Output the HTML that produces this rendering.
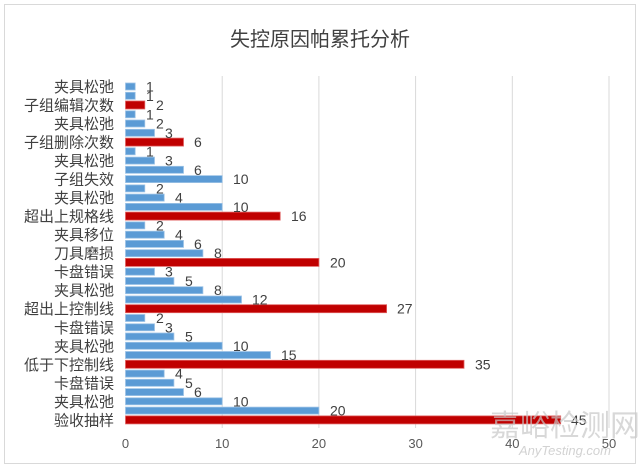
<!DOCTYPE html>
<html><head><meta charset="utf-8"><style>
html,body{margin:0;padding:0;background:#fff;}
svg{display:block;font-family:"Liberation Sans","Noto Sans CJK SC",sans-serif;}
</style></head><body>
<svg width="640" height="468" viewBox="0 0 640 468" xmlns="http://www.w3.org/2000/svg">
<rect x="0" y="0" width="640" height="468" fill="#fff"/>
<rect x="4.5" y="4.5" width="631" height="459" fill="none" stroke="#d9d9d9"/>
<text x="320" y="46" text-anchor="middle" font-size="20" fill="#404040">失控原因帕累托分析</text>
<g stroke="#d9d9d9" stroke-width="1">
<line x1="222.2" y1="76" x2="222.2" y2="428"/>
<line x1="318.9" y1="76" x2="318.9" y2="428"/>
<line x1="415.6" y1="76" x2="415.6" y2="428"/>
<line x1="512.3" y1="76" x2="512.3" y2="428"/>
<line x1="609" y1="76" x2="609" y2="428"/>
</g>
<g font-size="13" fill="#595959" text-anchor="middle">
<text x="125.5" y="448">0</text><text x="222.2" y="448">10</text><text x="318.9" y="448">20</text><text x="415.6" y="448">30</text><text x="512.3" y="448">40</text><text x="609" y="448">50</text>
</g>
<g fill="#5b9bd5" stroke="#9dc3e6" stroke-width="0.8">
<rect x="125.5" y="83" width="9.7" height="7"/>
<rect x="125.5" y="92.3" width="9.7" height="7"/>
<rect x="125.5" y="110.8" width="9.7" height="7"/>
<rect x="125.5" y="120" width="19.3" height="7"/>
<rect x="125.5" y="129.3" width="29" height="7"/>
<rect x="125.5" y="147.8" width="9.7" height="7"/>
<rect x="125.5" y="157.1" width="29" height="7"/>
<rect x="125.5" y="166.3" width="58" height="7"/>
<rect x="125.5" y="175.6" width="96.7" height="7"/>
<rect x="125.5" y="184.9" width="19.3" height="7"/>
<rect x="125.5" y="194.1" width="38.7" height="7"/>
<rect x="125.5" y="203.4" width="96.7" height="7"/>
<rect x="125.5" y="221.9" width="19.3" height="7"/>
<rect x="125.5" y="231.2" width="38.7" height="7"/>
<rect x="125.5" y="240.4" width="58" height="7"/>
<rect x="125.5" y="249.7" width="77.4" height="7"/>
<rect x="125.5" y="268.2" width="29" height="7"/>
<rect x="125.5" y="277.5" width="48.4" height="7"/>
<rect x="125.5" y="286.7" width="77.4" height="7"/>
<rect x="125.5" y="296" width="116" height="7"/>
<rect x="125.5" y="314.5" width="19.3" height="7"/>
<rect x="125.5" y="323.8" width="29" height="7"/>
<rect x="125.5" y="333" width="48.4" height="7"/>
<rect x="125.5" y="342.3" width="96.7" height="7"/>
<rect x="125.5" y="351.5" width="145" height="7"/>
<rect x="125.5" y="370.1" width="38.7" height="7"/>
<rect x="125.5" y="379.3" width="48.4" height="7"/>
<rect x="125.5" y="388.6" width="58" height="7"/>
<rect x="125.5" y="397.8" width="96.7" height="7"/>
<rect x="125.5" y="407.1" width="193.4" height="7"/>
</g>
<g fill="#c00000" stroke="#e06060" stroke-width="0.8">
<rect x="125.5" y="101" width="19.3" height="8"/>
<rect x="125.5" y="138.1" width="58" height="8"/>
<rect x="125.5" y="212.1" width="154.7" height="8"/>
<rect x="125.5" y="258.4" width="193.4" height="8"/>
<rect x="125.5" y="304.7" width="261.1" height="8"/>
<rect x="125.5" y="360.3" width="338.5" height="8"/>
<rect x="125.5" y="415.9" width="435.2" height="8"/>
</g>
<g font-size="14" fill="#404040">
<text x="146" y="91.5">1</text>
<text x="146" y="100.8">1</text>
<text x="156" y="110">2</text>
<text x="146" y="119.3">1</text>
<text x="156" y="128.5">2</text>
<text x="165" y="137.8">3</text>
<text x="194" y="147.1">6</text>
<text x="146" y="156.3">1</text>
<text x="165" y="165.6">3</text>
<text x="194" y="174.8">6</text>
<text x="233" y="184.1">10</text>
<text x="156" y="193.4">2</text>
<text x="175" y="202.6">4</text>
<text x="233" y="211.9">10</text>
<text x="291" y="221.1">16</text>
<text x="156" y="230.4">2</text>
<text x="175" y="239.7">4</text>
<text x="194" y="248.9">6</text>
<text x="214" y="258.2">8</text>
<text x="330" y="267.4">20</text>
<text x="165" y="276.7">3</text>
<text x="185" y="286">5</text>
<text x="214" y="295.2">8</text>
<text x="252" y="304.5">12</text>
<text x="397" y="313.7">27</text>
<text x="156" y="323">2</text>
<text x="165" y="332.3">3</text>
<text x="185" y="341.5">5</text>
<text x="233" y="350.8">10</text>
<text x="281" y="360">15</text>
<text x="475" y="369.3">35</text>
<text x="175" y="378.6">4</text>
<text x="185" y="387.8">5</text>
<text x="194" y="397.1">6</text>
<text x="233" y="406.3">10</text>
<text x="330" y="415.6">20</text>
<text x="571" y="424.9">45</text>
</g>
<g font-size="15" fill="#404040" text-anchor="end">
<text x="114" y="92">夹具松弛</text>
<text x="114" y="110.5">子组编辑次数</text>
<text x="114" y="129">夹具松弛</text>
<text x="114" y="147.6">子组删除次数</text>
<text x="114" y="166.1">夹具松弛</text>
<text x="114" y="184.6">子组失效</text>
<text x="114" y="203.1">夹具松弛</text>
<text x="114" y="221.6">超出上规格线</text>
<text x="114" y="240.2">夹具移位</text>
<text x="114" y="258.7">刀具磨损</text>
<text x="114" y="277.2">卡盘错误</text>
<text x="114" y="295.7">夹具松弛</text>
<text x="114" y="314.2">超出上控制线</text>
<text x="114" y="332.8">卡盘错误</text>
<text x="114" y="351.3">夹具松弛</text>
<text x="114" y="369.8">低于下控制线</text>
<text x="114" y="388.3">卡盘错误</text>
<text x="114" y="406.8">夹具松弛</text>
<text x="114" y="425.4">验收抽样</text>
</g>
<text x="565" y="436" text-anchor="middle" font-size="30" fill="#c8c8c8" opacity="0.7">嘉峪检测网</text>
<text x="565" y="455" text-anchor="middle" font-size="13" font-style="italic" fill="#c8c8c8" opacity="0.8">AnyTesting.com</text>
</svg>
</body></html>
